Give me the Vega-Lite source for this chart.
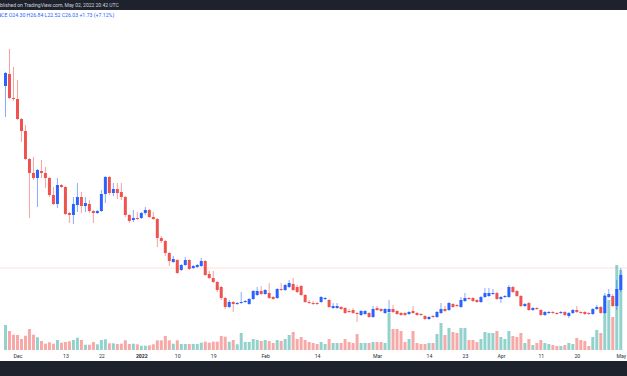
{
  "$schema": "https://vega.github.io/schema/vega-lite/v6.json",
  "width": 627,
  "height": 351,
  "autosize": {"type": "none"},
  "padding": {"top": 10, "bottom": 15, "left": 0, "right": 0},
  "background": "#1e222d",
  "config": {"view": {"fill": "#ffffff", "stroke": null}, "font": "Roboto"},
  "title": {
    "text": "Published on TradingView.com, May 02, 2022 20:42 UTC",
    "subtitle": "ANCE  O24.30  H26.84  L22.52  C26.03  +1.73 (+7.12%)",
    "anchor": "start", "frame": "group", "orient": "top",
    "offset": -7.9, "dx": -6,
    "font": "Roboto", "fontSize": 5, "fontWeight": "normal", "color": "#d1d4dc",
    "subtitleFont": "Roboto", "subtitleFontSize": 5.2, "subtitleColor": "#2962ff", "subtitlePadding": 4.5
  },
  "datasets": {
    "ohlc": [
    {"d":"2021-11-28","o":71.53,"h":75.03,"l":63.78,"c":74.78,"v":250000},
    {"d":"2021-11-29","o":74.53,"h":80.78,"l":68.28,"c":68.53,"v":190000},
    {"d":"2021-11-30","o":68.53,"h":76.28,"l":67.78,"c":68.28,"v":153000},
    {"d":"2021-12-01","o":68.28,"h":73.03,"l":63.03,"c":63.28,"v":150000},
    {"d":"2021-12-02","o":63.28,"h":63.53,"l":57.53,"c":60.28,"v":110000},
    {"d":"2021-12-03","o":60.28,"h":61.78,"l":53.03,"c":53.28,"v":143000},
    {"d":"2021-12-04","o":53.28,"h":53.53,"l":38.53,"c":49.78,"v":210000},
    {"d":"2021-12-05","o":49.78,"h":53.78,"l":48.03,"c":48.53,"v":153000},
    {"d":"2021-12-06","o":48.53,"h":50.78,"l":41.28,"c":50.53,"v":127000},
    {"d":"2021-12-07","o":50.28,"h":53.03,"l":48.53,"c":49.78,"v":90000},
    {"d":"2021-12-08","o":49.78,"h":51.28,"l":46.03,"c":48.53,"v":63000},
    {"d":"2021-12-09","o":48.53,"h":48.78,"l":43.78,"c":44.28,"v":77000},
    {"d":"2021-12-10","o":44.28,"h":46.28,"l":41.78,"c":42.03,"v":63000},
    {"d":"2021-12-11","o":42.03,"h":48.53,"l":41.03,"c":46.78,"v":100000},
    {"d":"2021-12-12","o":46.78,"h":47.03,"l":46.03,"c":46.28,"v":73000},
    {"d":"2021-12-13","o":46.28,"h":46.53,"l":39.28,"c":39.53,"v":80000},
    {"d":"2021-12-14","o":39.78,"h":40.03,"l":37.28,"c":39.28,"v":87000},
    {"d":"2021-12-15","o":39.28,"h":43.78,"l":37.03,"c":42.03,"v":100000},
    {"d":"2021-12-16","o":41.78,"h":47.28,"l":40.03,"c":43.78,"v":123000},
    {"d":"2021-12-17","o":43.78,"h":45.03,"l":39.78,"c":41.53,"v":100000},
    {"d":"2021-12-18","o":41.53,"h":43.78,"l":40.03,"c":42.28,"v":53000},
    {"d":"2021-12-19","o":42.03,"h":43.03,"l":39.78,"c":40.28,"v":53000},
    {"d":"2021-12-20","o":40.28,"h":40.53,"l":37.28,"c":39.78,"v":80000},
    {"d":"2021-12-21","o":39.78,"h":40.53,"l":39.53,"c":40.28,"v":57000},
    {"d":"2021-12-22","o":40.28,"h":45.53,"l":40.03,"c":44.53,"v":100000},
    {"d":"2021-12-23","o":44.53,"h":49.03,"l":42.28,"c":48.78,"v":107000},
    {"d":"2021-12-24","o":48.78,"h":49.03,"l":44.28,"c":44.78,"v":67000},
    {"d":"2021-12-25","o":44.78,"h":47.28,"l":44.03,"c":45.78,"v":67000},
    {"d":"2021-12-26","o":45.78,"h":47.28,"l":43.28,"c":44.78,"v":60000},
    {"d":"2021-12-27","o":45.03,"h":47.28,"l":43.03,"c":43.78,"v":63000},
    {"d":"2021-12-28","o":43.78,"h":44.03,"l":38.78,"c":39.28,"v":97000},
    {"d":"2021-12-29","o":39.28,"h":39.53,"l":37.28,"c":37.78,"v":60000},
    {"d":"2021-12-30","o":38.03,"h":40.53,"l":37.53,"c":38.53,"v":63000},
    {"d":"2021-12-31","o":38.53,"h":40.03,"l":38.03,"c":38.28,"v":57000},
    {"d":"2022-01-01","o":38.53,"h":40.03,"l":38.28,"c":39.78,"v":43000},
    {"d":"2022-01-02","o":39.78,"h":41.28,"l":39.28,"c":40.53,"v":43000},
    {"d":"2022-01-03","o":40.53,"h":40.78,"l":38.53,"c":38.78,"v":47000},
    {"d":"2022-01-04","o":38.78,"h":40.03,"l":38.03,"c":38.28,"v":57000},
    {"d":"2022-01-05","o":38.28,"h":38.53,"l":31.28,"c":33.53,"v":97000},
    {"d":"2022-01-06","o":33.53,"h":34.03,"l":32.28,"c":32.78,"v":97000},
    {"d":"2022-01-07","o":32.78,"h":33.03,"l":29.03,"c":29.78,"v":140000},
    {"d":"2022-01-08","o":29.78,"h":30.03,"l":26.53,"c":27.78,"v":97000},
    {"d":"2022-01-09","o":27.53,"h":29.03,"l":27.28,"c":28.28,"v":63000},
    {"d":"2022-01-10","o":28.03,"h":28.28,"l":24.53,"c":24.78,"v":97000},
    {"d":"2022-01-11","o":25.53,"h":27.03,"l":25.28,"c":26.78,"v":60000},
    {"d":"2022-01-12","o":26.78,"h":28.78,"l":26.53,"c":28.03,"v":60000},
    {"d":"2022-01-13","o":28.03,"h":28.28,"l":25.53,"c":25.78,"v":60000},
    {"d":"2022-01-14","o":26.03,"h":26.78,"l":25.78,"c":26.53,"v":60000},
    {"d":"2022-01-15","o":26.28,"h":27.03,"l":26.03,"c":26.78,"v":60000},
    {"d":"2022-01-16","o":26.53,"h":28.53,"l":26.28,"c":27.78,"v":73000},
    {"d":"2022-01-17","o":27.78,"h":28.03,"l":24.03,"c":24.28,"v":83000},
    {"d":"2022-01-18","o":24.53,"h":25.28,"l":23.28,"c":23.53,"v":73000},
    {"d":"2022-01-19","o":23.53,"h":25.28,"l":22.28,"c":22.53,"v":83000},
    {"d":"2022-01-20","o":22.53,"h":22.78,"l":20.03,"c":20.53,"v":83000},
    {"d":"2022-01-21","o":21.28,"h":21.53,"l":18.03,"c":18.53,"v":140000},
    {"d":"2022-01-22","o":18.53,"h":18.78,"l":15.78,"c":16.28,"v":133000},
    {"d":"2022-01-23","o":16.28,"h":18.03,"l":16.03,"c":17.53,"v":83000},
    {"d":"2022-01-24","o":17.53,"h":17.78,"l":15.03,"c":17.03,"v":100000},
    {"d":"2022-01-25","o":17.03,"h":17.53,"l":16.78,"c":17.28,"v":57000},
    {"d":"2022-01-26","o":17.28,"h":20.03,"l":17.03,"c":17.53,"v":170000},
    {"d":"2022-01-27","o":17.53,"h":18.03,"l":17.28,"c":17.78,"v":80000},
    {"d":"2022-01-28","o":17.03,"h":18.53,"l":16.78,"c":18.28,"v":80000},
    {"d":"2022-01-29","o":18.28,"h":20.53,"l":18.03,"c":20.28,"v":110000},
    {"d":"2022-01-30","o":19.28,"h":21.28,"l":19.03,"c":20.28,"v":100000},
    {"d":"2022-01-31","o":20.28,"h":21.53,"l":19.28,"c":19.53,"v":90000},
    {"d":"2022-02-01","o":19.53,"h":20.78,"l":19.28,"c":20.53,"v":100000},
    {"d":"2022-02-02","o":19.78,"h":22.28,"l":18.28,"c":18.53,"v":90000},
    {"d":"2022-02-03","o":18.78,"h":19.03,"l":18.03,"c":18.28,"v":70000},
    {"d":"2022-02-04","o":18.53,"h":21.03,"l":18.28,"c":20.78,"v":100000},
    {"d":"2022-02-05","o":20.78,"h":22.28,"l":20.28,"c":20.53,"v":90000},
    {"d":"2022-02-06","o":20.53,"h":22.03,"l":20.28,"c":21.78,"v":110000},
    {"d":"2022-02-07","o":21.28,"h":23.03,"l":21.03,"c":22.28,"v":150000},
    {"d":"2022-02-08","o":22.03,"h":23.53,"l":20.28,"c":20.53,"v":180000},
    {"d":"2022-02-09","o":21.28,"h":21.78,"l":19.78,"c":20.03,"v":110000},
    {"d":"2022-02-10","o":21.53,"h":21.78,"l":19.03,"c":19.28,"v":130000},
    {"d":"2022-02-11","o":19.28,"h":19.53,"l":17.28,"c":17.53,"v":100000},
    {"d":"2022-02-12","o":17.53,"h":18.03,"l":17.03,"c":17.28,"v":80000},
    {"d":"2022-02-13","o":17.28,"h":17.78,"l":16.78,"c":17.03,"v":70000},
    {"d":"2022-02-14","o":17.28,"h":17.53,"l":16.78,"c":17.03,"v":60000},
    {"d":"2022-02-15","o":17.53,"h":19.03,"l":17.28,"c":18.78,"v":80000},
    {"d":"2022-02-16","o":18.28,"h":18.78,"l":18.03,"c":18.53,"v":60000},
    {"d":"2022-02-17","o":18.03,"h":18.28,"l":16.03,"c":16.28,"v":110000},
    {"d":"2022-02-18","o":16.03,"h":17.28,"l":15.78,"c":16.53,"v":70000},
    {"d":"2022-02-19","o":16.03,"h":17.28,"l":15.78,"c":16.53,"v":70000},
    {"d":"2022-02-20","o":16.28,"h":16.53,"l":15.53,"c":15.78,"v":70000},
    {"d":"2022-02-21","o":16.03,"h":16.28,"l":14.53,"c":14.78,"v":110000},
    {"d":"2022-02-22","o":15.28,"h":15.78,"l":14.78,"c":15.03,"v":80000},
    {"d":"2022-02-23","o":15.53,"h":16.03,"l":14.53,"c":14.78,"v":70000},
    {"d":"2022-02-24","o":14.78,"h":15.03,"l":12.53,"c":14.53,"v":160000},
    {"d":"2022-02-25","o":14.28,"h":15.53,"l":14.03,"c":15.28,"v":70000},
    {"d":"2022-02-26","o":14.53,"h":15.53,"l":14.28,"c":15.28,"v":70000},
    {"d":"2022-02-27","o":14.78,"h":15.03,"l":13.53,"c":13.78,"v":70000},
    {"d":"2022-02-28","o":13.78,"h":16.53,"l":13.53,"c":15.78,"v":80000},
    {"d":"2022-03-01","o":16.03,"h":16.53,"l":15.28,"c":15.53,"v":80000},
    {"d":"2022-03-02","o":15.78,"h":16.03,"l":15.03,"c":15.28,"v":80000},
    {"d":"2022-03-03","o":14.78,"h":16.03,"l":14.53,"c":15.78,"v":70000},
    {"d":"2022-03-04","o":15.03,"h":18.03,"l":14.78,"c":15.78,"v":370000},
    {"d":"2022-03-05","o":15.78,"h":16.78,"l":14.78,"c":15.03,"v":210000},
    {"d":"2022-03-06","o":15.28,"h":15.53,"l":14.28,"c":14.53,"v":210000},
    {"d":"2022-03-07","o":14.78,"h":15.03,"l":14.03,"c":14.28,"v":190000},
    {"d":"2022-03-08","o":14.78,"h":15.03,"l":14.03,"c":14.28,"v":80000},
    {"d":"2022-03-09","o":14.53,"h":15.28,"l":14.28,"c":15.03,"v":110000},
    {"d":"2022-03-10","o":15.28,"h":16.53,"l":14.53,"c":14.78,"v":190000},
    {"d":"2022-03-11","o":14.78,"h":15.03,"l":14.03,"c":14.28,"v":70000},
    {"d":"2022-03-12","o":14.53,"h":14.78,"l":14.03,"c":14.28,"v":60000},
    {"d":"2022-03-13","o":14.03,"h":14.28,"l":13.03,"c":13.28,"v":60000},
    {"d":"2022-03-14","o":13.28,"h":14.03,"l":13.03,"c":13.78,"v":70000},
    {"d":"2022-03-15","o":14.03,"h":14.28,"l":13.53,"c":13.78,"v":70000},
    {"d":"2022-03-16","o":13.78,"h":15.28,"l":13.53,"c":15.03,"v":160000},
    {"d":"2022-03-17","o":14.78,"h":17.28,"l":14.53,"c":15.78,"v":270000},
    {"d":"2022-03-18","o":15.78,"h":16.53,"l":15.03,"c":15.28,"v":150000},
    {"d":"2022-03-19","o":15.53,"h":17.53,"l":15.28,"c":17.28,"v":220000},
    {"d":"2022-03-20","o":17.03,"h":17.28,"l":16.03,"c":16.28,"v":180000},
    {"d":"2022-03-21","o":16.78,"h":17.03,"l":16.28,"c":16.53,"v":170000},
    {"d":"2022-03-22","o":16.28,"h":18.78,"l":16.03,"c":18.03,"v":220000},
    {"d":"2022-03-23","o":17.78,"h":19.78,"l":17.53,"c":18.53,"v":220000},
    {"d":"2022-03-24","o":18.53,"h":18.78,"l":18.03,"c":18.28,"v":100000},
    {"d":"2022-03-25","o":18.53,"h":18.78,"l":17.53,"c":17.78,"v":100000},
    {"d":"2022-03-26","o":18.03,"h":18.28,"l":17.28,"c":17.53,"v":80000},
    {"d":"2022-03-27","o":17.53,"h":19.03,"l":17.28,"c":18.78,"v":110000},
    {"d":"2022-03-28","o":18.78,"h":21.03,"l":18.53,"c":19.78,"v":180000},
    {"d":"2022-03-29","o":19.03,"h":21.03,"l":18.78,"c":19.78,"v":170000},
    {"d":"2022-03-30","o":19.53,"h":20.78,"l":19.28,"c":19.78,"v":170000},
    {"d":"2022-03-31","o":19.78,"h":20.03,"l":18.03,"c":18.28,"v":190000},
    {"d":"2022-04-01","o":18.28,"h":19.03,"l":17.28,"c":18.78,"v":130000},
    {"d":"2022-04-02","o":18.78,"h":19.28,"l":18.53,"c":19.03,"v":110000},
    {"d":"2022-04-03","o":18.78,"h":21.78,"l":18.53,"c":21.28,"v":190000},
    {"d":"2022-04-04","o":21.28,"h":21.53,"l":19.78,"c":20.03,"v":140000},
    {"d":"2022-04-05","o":20.28,"h":20.53,"l":18.78,"c":19.03,"v":130000},
    {"d":"2022-04-06","o":19.03,"h":19.28,"l":16.28,"c":16.53,"v":170000},
    {"d":"2022-04-07","o":16.53,"h":17.28,"l":16.28,"c":17.03,"v":70000},
    {"d":"2022-04-08","o":17.28,"h":17.53,"l":15.28,"c":15.53,"v":110000},
    {"d":"2022-04-09","o":15.53,"h":16.28,"l":15.28,"c":16.03,"v":50000},
    {"d":"2022-04-10","o":16.03,"h":16.28,"l":15.53,"c":15.78,"v":70000},
    {"d":"2022-04-11","o":15.53,"h":15.78,"l":14.03,"c":14.28,"v":100000},
    {"d":"2022-04-12","o":14.28,"h":15.28,"l":14.03,"c":15.03,"v":70000},
    {"d":"2022-04-13","o":14.78,"h":15.28,"l":14.53,"c":15.03,"v":60000},
    {"d":"2022-04-14","o":15.03,"h":15.28,"l":14.53,"c":14.78,"v":50000},
    {"d":"2022-04-15","o":14.78,"h":15.03,"l":14.28,"c":14.53,"v":40000},
    {"d":"2022-04-16","o":14.78,"h":15.28,"l":14.53,"c":15.03,"v":40000},
    {"d":"2022-04-17","o":15.03,"h":15.28,"l":14.03,"c":14.28,"v":50000},
    {"d":"2022-04-18","o":14.03,"h":15.03,"l":13.53,"c":14.78,"v":70000},
    {"d":"2022-04-19","o":14.78,"h":15.78,"l":14.53,"c":15.53,"v":60000},
    {"d":"2022-04-20","o":15.53,"h":16.53,"l":14.78,"c":15.03,"v":120000},
    {"d":"2022-04-21","o":15.03,"h":15.28,"l":14.53,"c":14.78,"v":100000},
    {"d":"2022-04-22","o":15.03,"h":15.28,"l":14.28,"c":14.53,"v":90000},
    {"d":"2022-04-23","o":14.78,"h":15.03,"l":14.28,"c":14.53,"v":40000},
    {"d":"2022-04-24","o":14.53,"h":16.03,"l":14.28,"c":15.78,"v":130000},
    {"d":"2022-04-25","o":15.78,"h":16.78,"l":15.53,"c":16.28,"v":200000},
    {"d":"2022-04-26","o":16.28,"h":16.53,"l":14.53,"c":14.78,"v":170000},
    {"d":"2022-04-27","o":14.78,"h":19.78,"l":14.53,"c":19.03,"v":550000},
    {"d":"2022-04-28","o":18.78,"h":20.78,"l":18.53,"c":19.53,"v":500000},
    {"d":"2022-04-29","o":19.03,"h":19.53,"l":16.28,"c":16.53,"v":330000},
    {"d":"2022-04-30","o":16.53,"h":23.03,"l":15.53,"c":20.78,"v":850000},
    {"d":"2022-05-01","o":20.53,"h":26.03,"l":20.03,"c":24.30,"v":800000}
    ],
    "last": [{"close": 26.03}]
  },
  "layer": [
    {
      "data": {"name": "ohlc"},
      "mark": {"type": "bar", "size": 3, "clip": true},
      "encoding": {
        "x": {
          "field": "d", "type": "temporal",
          "scale": {"type": "utc", "domain": [1638046972800, 1651389724800]},
          "axis": {
            "orient": "bottom", "title": null, "domain": false, "ticks": false, "tickSize": 0, "grid": false,
            "values": [
              {"year": 2021, "month": 12, "date": 1, "utc": true},
              {"year": 2021, "month": 12, "date": 13, "utc": true},
              {"year": 2021, "month": 12, "date": 22, "utc": true},
              {"year": 2022, "month": 1, "date": 1, "utc": true},
              {"year": 2022, "month": 1, "date": 10, "utc": true},
              {"year": 2022, "month": 1, "date": 19, "utc": true},
              {"year": 2022, "month": 2, "date": 1, "utc": true},
              {"year": 2022, "month": 2, "date": 14, "utc": true},
              {"year": 2022, "month": 3, "date": 1, "utc": true},
              {"year": 2022, "month": 3, "date": 14, "utc": true},
              {"year": 2022, "month": 3, "date": 23, "utc": true},
              {"year": 2022, "month": 4, "date": 1, "utc": true},
              {"year": 2022, "month": 4, "date": 11, "utc": true},
              {"year": 2022, "month": 4, "date": 20, "utc": true},
              {"year": 2022, "month": 5, "date": 1, "utc": true}
            ],
            "labelExpr": "utcdate(datum.value) == 1 ? (utcmonth(datum.value) == 0 ? '2022' : utcFormat(datum.value, '%b')) : '' + utcdate(datum.value)",
            "labelFont": "Roboto", "labelFontSize": 5.2, "labelColor": "#2a2e39",
            "labelFontWeight": {"condition": {"test": "utcmonth(datum.value) == 0 && utcdate(datum.value) == 1", "value": "bold"}, "value": "normal"},
            "labelBaseline": "middle", "labelPadding": -5.3,
            "labelFlush": false, "labelOverlap": false, "labelBound": false
          }
        },
        "y": {"field": "v", "type": "quantitative", "axis": null,
              "scale": {"domain": [-110000, 3400000], "nice": false, "zero": false}},
        "color": {"condition": {"test": "datum.c >= datum.o", "value": "#92d2cc"}, "value": "#f7a9a7"}
      }
    },
    {
      "data": {"name": "last"},
      "mark": {"type": "rule", "color": "#ef5350", "opacity": 0.2, "strokeWidth": 1, "clip": true},
      "encoding": {
        "y": {"field": "close", "type": "quantitative", "axis": null,
              "scale": {"domain": [2.78, 90.53], "nice": false, "zero": false}}
      }
    },
    {
      "data": {"name": "ohlc"},
      "mark": {"type": "rule", "strokeWidth": 1, "opacity": 0.55, "clip": true},
      "encoding": {
        "x": {"field": "d", "type": "temporal",
              "scale": {"type": "utc", "domain": [1638046972800, 1651389724800]}},
        "y": {"field": "l", "type": "quantitative", "axis": null,
              "scale": {"domain": [2.78, 90.53], "nice": false, "zero": false}},
        "y2": {"field": "h"},
        "color": {"condition": {"test": "datum.c >= datum.o", "value": "#2962ff"}, "value": "#ef5350"}
      }
    },
    {
      "data": {"name": "ohlc"},
      "mark": {"type": "bar", "size": 3, "clip": true},
      "encoding": {
        "x": {"field": "d", "type": "temporal",
              "scale": {"type": "utc", "domain": [1638046972800, 1651389724800]}},
        "y": {"field": "o", "type": "quantitative", "axis": null,
              "scale": {"domain": [2.78, 90.53], "nice": false, "zero": false}},
        "y2": {"field": "c"},
        "color": {"condition": {"test": "datum.c >= datum.o", "value": "#2962ff"}, "value": "#ef5350"}
      }
    }
  ],
  "resolve": {"scale": {"y": "independent"}}
}
